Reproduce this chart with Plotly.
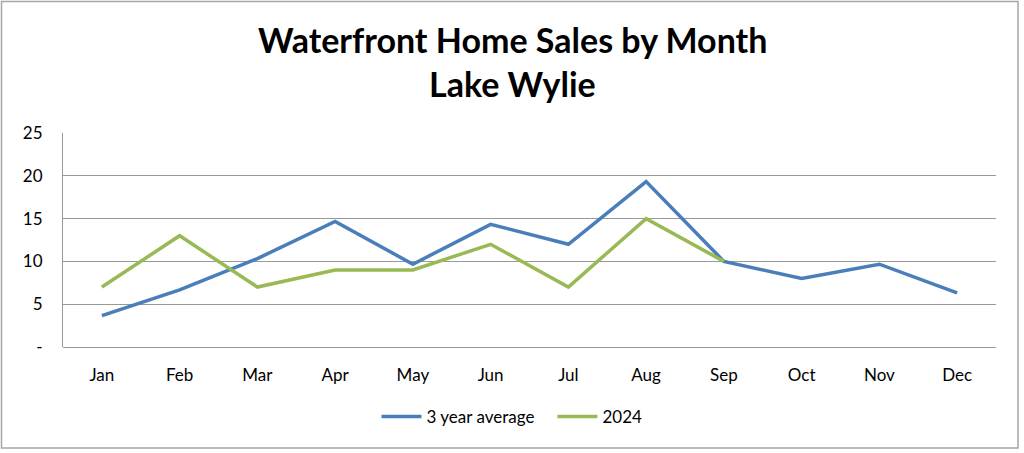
import plotly.graph_objects as go

months = ["Jan", "Feb", "Mar", "Apr", "May", "Jun", "Jul", "Aug", "Sep", "Oct", "Nov", "Dec"]
avg_3yr = [3.67, 6.67, 10.33, 14.67, 9.67, 14.33, 12.0, 19.33, 10.0, 8.0, 9.67, 6.33]
y2024 = [7, 13, 7, 9, 9, 12, 7, 15, 10]
ytick_vals = [0, 5, 10, 15, 20, 25]
ytick_text = ["-", "5", "10", "15", "20", "25"]
title_lines = ["Waterfront Home Sales by Month", "Lake Wylie"]

W, H = 1024, 453
ml, mr, mt, mb = 63, 28, 133, 106
pw, ph = W - ml - mr, H - mt - mb


def py(ypix):
    """convert a pixel row of the page to paper y"""
    return (H - mb - ypix) / ph


fig = go.Figure()
fig.add_trace(go.Scatter(x=months, y=avg_3yr, mode="lines", name="3 year average   ",
                         line=dict(color="#4A7EBB", width=3.5)))
fig.add_trace(go.Scatter(x=months[:len(y2024)], y=y2024, mode="lines", name="2024",
                         line=dict(color="#98B954", width=3.5)))

annotations = []
for txt, ypix in zip(title_lines, [40, 83]):
    annotations.append(dict(text="<b>" + txt + "</b>", xref="paper", yref="paper",
                            x=(512 - ml) / pw, y=py(ypix), xanchor="center", yanchor="middle",
                            showarrow=False,
                            font=dict(family="Lato, sans-serif", size=34, color="#000")))

fig.update_layout(
    width=W, height=H,
    margin=dict(l=ml, r=mr, t=mt, b=mb),
    paper_bgcolor="white", plot_bgcolor="white",
    font=dict(family="Lato, Open Sans, sans-serif", size=17, color="#000"),
    showlegend=True,
    legend=dict(orientation="h", x=(512 - ml) / pw, xanchor="center", y=py(417), yanchor="middle",
                font=dict(size=17), itemwidth=40),
    xaxis=dict(showgrid=False, showline=False, ticks="", tickfont=dict(size=17),
               ticklabelstandoff=16, range=[-0.5, 11.5], fixedrange=True),
    yaxis=dict(range=[0, 25], tickvals=ytick_vals, ticktext=ytick_text, showgrid=True,
               gridcolor="#999999", gridwidth=1, showline=True, linecolor="#999999", linewidth=1,
               zeroline=True, zerolinecolor="#999999", zerolinewidth=1,
               ticks="", ticklabelstandoff=16, tickfont=dict(size=17)),
    annotations=annotations,
    shapes=[dict(type="rect", xref="paper", yref="paper",
                 x0=(1.5 - ml) / pw, x1=(1018 - ml) / pw,
                 y0=py(448), y1=py(1.5),
                 line=dict(color="#A6A6A6", width=1.5), layer="below")],
)

fig.write_html("out.html")
